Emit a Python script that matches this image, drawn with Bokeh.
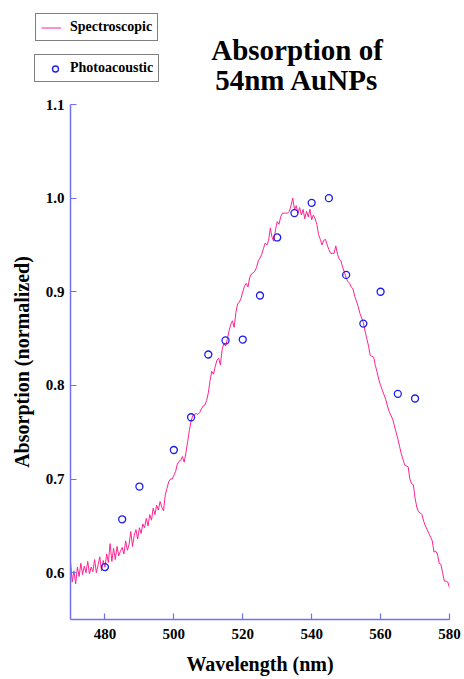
import numpy as np
from bokeh.plotting import figure
from bokeh.layouts import column
from bokeh.models import Label, Legend, LegendItem, FixedTicker, PrintfTickFormatter, Range1d
from bokeh.embed import file_html
from bokeh.resources import INLINE

# Spectroscopic absorption, 470-580 nm in 0.5 nm steps
spec_wl = np.arange(470.0, 580.01, 0.5)
spec_abs = [
    0.612, 0.590, 0.602, 0.588, 0.606, 0.596, 0.610, 0.598, 0.607, 0.600,
    0.612, 0.599, 0.606, 0.601, 0.614, 0.600, 0.608, 0.617, 0.602, 0.613,
    0.606, 0.620, 0.611, 0.631, 0.612, 0.626, 0.614, 0.628, 0.618, 0.623,
    0.627, 0.620, 0.634, 0.624, 0.630, 0.644, 0.628, 0.640, 0.646, 0.636,
    0.648, 0.642, 0.652, 0.648, 0.658, 0.650, 0.662, 0.656, 0.669, 0.662,
    0.672, 0.667, 0.676, 0.670, 0.666, 0.683, 0.690, 0.697, 0.700, 0.700,
    0.704, 0.708, 0.716, 0.719, 0.720, 0.724, 0.718, 0.728, 0.740, 0.752,
    0.762, 0.768, 0.769, 0.770, 0.769, 0.771, 0.775, 0.778, 0.779, 0.784,
    0.792, 0.805, 0.815, 0.812, 0.820, 0.827, 0.829, 0.822, 0.838, 0.845,
    0.842, 0.849, 0.858, 0.865, 0.869, 0.862, 0.878, 0.887, 0.889, 0.893,
    0.900, 0.906, 0.909, 0.905, 0.915, 0.919, 0.920, 0.922, 0.926, 0.933,
    0.936, 0.940, 0.946, 0.952, 0.950, 0.955, 0.968, 0.958, 0.954, 0.966,
    0.975, 0.972, 0.980, 0.984, 0.984, 0.984, 0.984, 0.986, 0.992, 1.000,
    0.988, 0.992, 0.984, 0.990, 0.982, 0.988, 0.978, 0.986, 0.980, 0.988,
    0.977, 0.982, 0.978, 0.972, 0.961, 0.956, 0.950, 0.955, 0.956, 0.950,
    0.945, 0.941, 0.941, 0.941, 0.949, 0.940, 0.935, 0.933, 0.926, 0.921,
    0.915, 0.911, 0.909, 0.905, 0.903, 0.895, 0.890, 0.884, 0.877, 0.872,
    0.867, 0.858, 0.850, 0.842, 0.832, 0.831, 0.830, 0.821, 0.814, 0.806,
    0.800, 0.795, 0.790, 0.785, 0.778, 0.772, 0.768, 0.764, 0.757, 0.750,
    0.743, 0.735, 0.727, 0.721, 0.715, 0.714, 0.713, 0.700, 0.695, 0.694,
    0.680, 0.670, 0.665, 0.664, 0.662, 0.655, 0.650, 0.646, 0.642, 0.638,
    0.634, 0.622, 0.623, 0.620, 0.610, 0.609, 0.600, 0.591, 0.591, 0.590,
    0.584,
]

# Photoacoustic points
pa_wl = [480, 485, 490, 500, 505, 510, 515, 520, 525, 530, 535, 540, 545,
         550, 555, 560, 565, 570]
pa_abs = [0.606, 0.657, 0.692, 0.731, 0.766, 0.833, 0.848, 0.849, 0.896, 0.958,
          0.984, 0.995, 1.000, 0.918, 0.866, 0.900, 0.791, 0.786]

x_ticks = [480, 500, 520, 540, 560, 580]
y_ticks = [0.6, 0.7, 0.8, 0.9, 1.0, 1.1]

title_lines = ["Absorption of", "54nm AuNPs"]
legend_labels = ["Spectroscopic", "Photoacoustic"]

FONT = "Liberation Serif"
AXIS_C = "#7272ee"
LINE_C = "#ff2291"
PT_C = "#1c1cf0"

TOP_H = 97

# ---------- header strip: title + legends (pixel-like coordinates) ----------
top = figure(width=464, height=TOP_H, x_range=Range1d(0, 464),
             y_range=Range1d(TOP_H, 0), output_backend="svg",
             toolbar_location=None, x_axis_type=None, y_axis_type=None,
             min_border=0, min_border_left=0, min_border_right=0,
             min_border_top=0, min_border_bottom=0)
top.frame_align = False
top.outline_line_color = None
top.xgrid.visible = False
top.ygrid.visible = False

for txt, yy in zip(title_lines, [49.5, 79.5]):
    top.add_layout(Label(x=296.5, y=yy, text=txt, text_align="center",
                         text_baseline="alphabetic", text_font=FONT,
                         text_font_style="bold", text_font_size="29px",
                         text_color="black"))

# legend carriers: same data, which falls outside this strip's ranges (clipped)
leg_line = top.line(spec_wl, spec_abs, line_color=LINE_C, line_width=1.0)
leg_pts = top.scatter(pa_wl, pa_abs, marker="circle", size=7, fill_color=None,
                      line_color=PT_C, line_width=1.3)

def make_legend(item, loc, glyph_w, standoff):
    return Legend(items=[item], location=loc, orientation="vertical",
                  margin=0, padding=5, spacing=0,
                  glyph_width=glyph_w, glyph_height=15, label_height=15,
                  label_standoff=standoff,
                  label_text_font=FONT, label_text_font_style="bold",
                  label_text_font_size="14px", label_text_color="black",
                  border_line_color="black", border_line_width=1,
                  background_fill_color="white", background_fill_alpha=1.0)

top.add_layout(make_legend(LegendItem(label=legend_labels[0], renderers=[leg_line]),
                           (35, TOP_H - 41), 20, 9))
top.add_layout(make_legend(LegendItem(label=legend_labels[1], renderers=[leg_pts]),
                           (34, TOP_H - 82), 30, 0))

# ---------- main chart ----------
p = figure(width=464, height=679 - TOP_H, x_range=(470, 580), y_range=(0.55, 1.1),
           output_backend="svg", toolbar_location=None,
           min_border_left=70, min_border_right=15,
           min_border_top=104 - TOP_H, min_border_bottom=60)
p.frame_align = False
p.outline_line_color = None
p.xgrid.visible = False
p.ygrid.visible = False

p.line(spec_wl, spec_abs, line_color=LINE_C, line_width=1.0)
p.scatter(pa_wl, pa_abs, marker="circle", size=7, fill_color=None,
          line_color=PT_C, line_width=1.3)

for ax in (p.xaxis[0], p.yaxis[0]):
    ax.axis_line_color = AXIS_C
    ax.axis_line_width = 1.5
    ax.major_tick_line_color = AXIS_C
    ax.major_tick_line_width = 1.2
    ax.major_tick_in = 6
    ax.major_tick_out = 0
    ax.minor_tick_line_color = None
    ax.major_label_text_font = FONT
    ax.major_label_text_font_style = "bold"
    ax.major_label_text_font_size = "15px"
    ax.major_label_text_color = "black"
    ax.axis_label_text_font = FONT
    ax.axis_label_text_font_style = "bold"
    ax.axis_label_text_font_size = "20px"
    ax.axis_label_text_color = "black"

p.xaxis.ticker = FixedTicker(ticks=x_ticks)
p.yaxis.ticker = FixedTicker(ticks=y_ticks)
p.yaxis.formatter = PrintfTickFormatter(format="%.1f")
p.xaxis.axis_label = "Wavelength (nm)"
p.yaxis.axis_label = "Absorption (normalized)"
p.xaxis.major_label_standoff = 9
p.xaxis.axis_label_standoff = 11
p.yaxis.major_label_standoff = 6
p.yaxis.axis_label_standoff = 10

layout = column(top, p, spacing=0)
open("out.html", "w").write(file_html(layout, INLINE))
